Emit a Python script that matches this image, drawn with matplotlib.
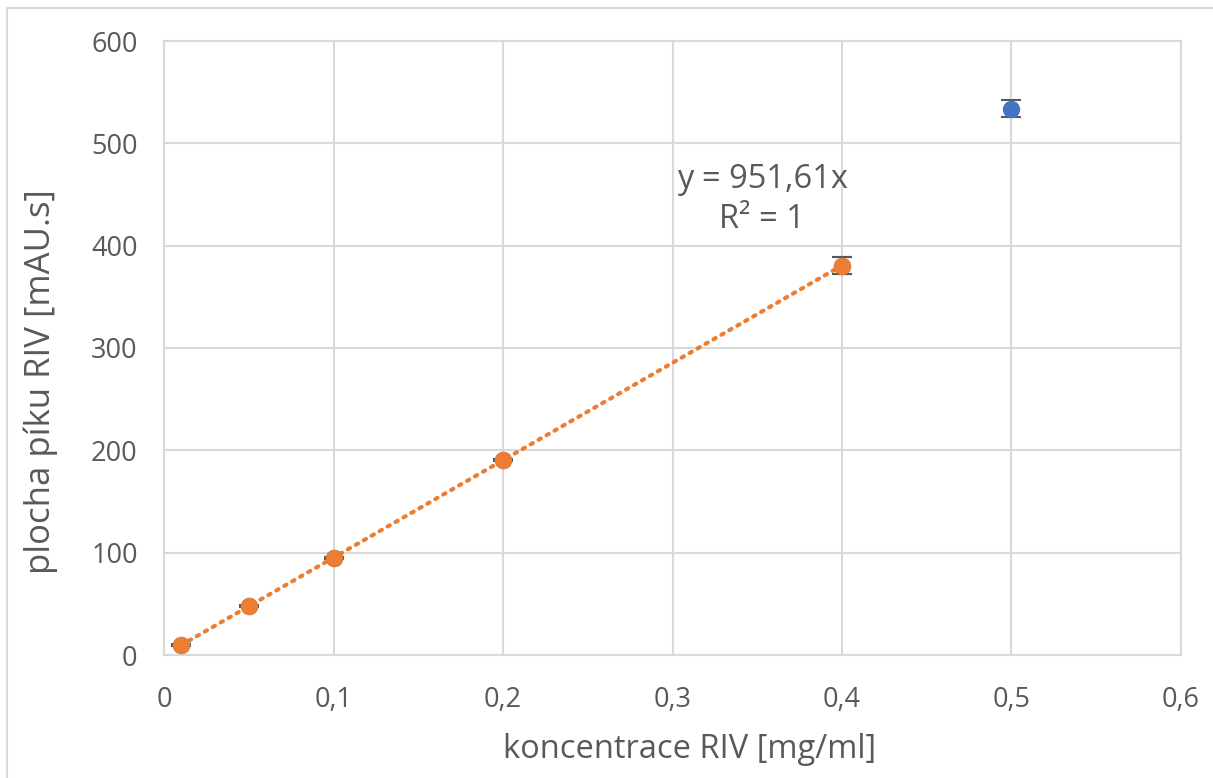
import numpy as np
import matplotlib.pyplot as plt
from matplotlib.patches import Rectangle

# Calibration data: concentration [mg/ml] vs. peak area [mAU.s]
conc = [0.01, 0.05, 0.1, 0.2, 0.4, 0.5]
area = [9.5, 47.6, 95.2, 190.3, 380.6, 534.0]
area_err = [1.0, 1.0, 1.0, 1.0, 8.0, 8.5]

# points used for the linear fit (intercept fixed at zero)
fit_conc = conc[:5]
fit_area = area[:5]
fit_err = area_err[:5]
slope = 951.61

grey = '#595959'
grid_col = '#d9d9d9'
blue = '#4472C4'
orange = '#ED7D31'

plt.rcParams['font.family'] = ['Open Sans', 'DejaVu Sans']

fig = plt.figure(figsize=(12.13, 7.78), dpi=100)
fig.patches.append(Rectangle((7 / 1213, -0.1), 1.2, 1.1 - 8 / 778,
                             transform=fig.transFigure, fill=False,
                             edgecolor=grid_col, linewidth=1.5))
ax = fig.add_axes([164 / 1213, 123 / 778, 1017 / 1213, 614 / 778])

ax.errorbar(conc, area, yerr=area_err, fmt='o', color=blue, markersize=11.5,
            ecolor=grey, elinewidth=1.5, capsize=7, capthick=1.5, zorder=3)
ax.errorbar(fit_conc, fit_area, yerr=fit_err, fmt='o', color=orange, markersize=11.5,
            ecolor=grey, elinewidth=1.5, capsize=7, capthick=1.5, zorder=4)

xs = np.array([fit_conc[0], fit_conc[-1]])
ax.plot(xs, slope * xs, linestyle=(0, (0.6, 1.6)), color=orange, linewidth=3,
        dash_capstyle='round', zorder=2)

ax.text(0.353, 445, 'y = 951,61x\nR² = 1', ha='center', va='center',
        fontsize=23.5, color=grey, linespacing=1.3)

ax.set_xlim(0, 0.6)
ax.set_ylim(0, 600)
ax.set_xticks(np.arange(0, 0.61, 0.1))
ax.set_xticklabels(['0', '0,1', '0,2', '0,3', '0,4', '0,5', '0,6'])
ax.set_yticks(np.arange(0, 601, 100))
ax.grid(True, color=grid_col, linewidth=1.5)
ax.set_axisbelow(True)
for s in ax.spines.values():
    s.set_color(grid_col)
    s.set_linewidth(1.5)
ax.tick_params(length=0, labelsize=19.5, colors=grey)
ax.tick_params(axis='x', pad=22)
ax.tick_params(axis='y', pad=19)

ax.set_xlabel('koncentrace RIV [mg/ml]', fontsize=23.5, color=grey, labelpad=14)
ax.set_ylabel('plocha píku RIV [mAU.s]', fontsize=25, color=grey, labelpad=24)
ax.xaxis.label.set_x(0.517)
ax.yaxis.label.set_y(0.445)

fig.savefig('out.png', dpi=100)
